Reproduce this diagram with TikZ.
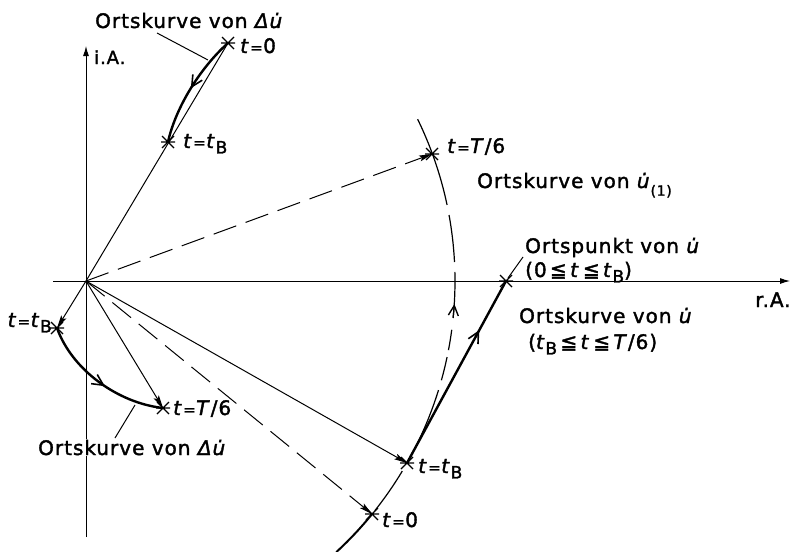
\documentclass[tikz,border=0pt]{standalone}
\usepackage{fontspec}
\setmainfont{DejaVu Sans}
\newfontfamily\lab[LetterSpace=5,FakeBold=1.8]{DejaVu Sans}
\usetikzlibrary{arrows.meta,decorations.markings,calc}
\newcommand\ti{\textit{t}}
\newcommand\ud{\textit{u^^^^0307}}
\newcommand\eq{\kern0.5pt{\fontsize{15}{18}\selectfont=}\kern0.5pt}
\newcommand\sB{\raisebox{-0.5ex}{\fontsize{17}{20}\selectfont B}}
\newcommand\sOne{\raisebox{-0.7ex}{\fontsize{14}{17}\selectfont (1)}}
\begin{document}
\begin{tikzpicture}[x=1pt,y=-1pt,
  thinl/.style={line width=1pt},
  vec/.style={line width=1pt,-{Stealth[length=13pt,width=6pt,inset=2.5pt]}},
  dvec/.style={vec,dash pattern=on 24pt off 10pt},
  thickc/.style={line width=2.4pt},
  lbl/.style={font=\lab\fontsize{20}{24}\selectfont,inner sep=0pt,anchor=base west},
  barb/.style={-{Straight Barb[length=10pt,width=10pt,line width=1.4pt]}},
  midarrow/.style={postaction={decorate},decoration={markings,mark=at position #1 with {\arrow{Straight Barb[length=11pt,width=11pt,line width=1.6pt]}}}},
  xmark/.pic={\draw[line width=1.3pt] (-6,-6)--(6,6) (-6,6)--(6,-6) (-7,0)--(7,0);}
]
\useasboundingbox (0,0) rectangle (791,551);
% points
\coordinate (O) at (86,281);
\coordinate (A0) at (228,43);
\coordinate (AB) at (168,142);
\coordinate (T6) at (432,154);
\coordinate (BB) at (407,463);
\coordinate (B0) at (372,514);
\coordinate (P) at (506,281);
\coordinate (LB) at (57,328);
\coordinate (LT) at (163,408);
\coordinate (ybot) at (86,537);
\coordinate (ytop) at (86,46);
\coordinate (xl) at (53,281);
\coordinate (xr) at (790,281);
% axes
\draw[thinl,-{Latex[length=10pt,width=6pt]}] (ybot) -- (ytop);
\draw[thinl,-{Latex[length=10pt,width=6pt]}] (xl) -- (xr);
% arc (Ortskurve von u(1))
\foreach \a/\b in {26/11.9, 10.3/2.95, 1.4/-5.75, -10.8/-7.6, -15.6/-11.9, -29.6/-17.2, -38.5/-31}
  \draw[line width=1.2pt] plot[domain=\a:\b,samples=16,smooth] ({86+369*cos(\x)},{281-369*sin(\x)});
\coordinate (arA) at (453.1,318);
\coordinate (arB) at (454.4,304);
\draw[line width=1.2pt,barb] (arA) -- (arB);
\draw[line width=2pt] plot[domain=-39.2:-47.3,samples=12,smooth] ({86+369*cos(\x)},{281-369*sin(\x)});
% vectors
\draw[thinl] (O) -- (A0);
\draw[dvec] (O) -- (T6);
\draw[vec] (O) -- (BB);
\draw[dvec] (O) -- (B0);
\draw[vec] (O) -- (LB);
\draw[vec] (O) -- (LT);
% locus curves
\draw[thickc,midarrow=0.5] (A0) .. controls (198,70) and (175,110) .. (AB);
\draw[thickc,midarrow=0.55] (LB) .. controls (72,370) and (118,403) .. (LT);
\draw[thickc,midarrow=0.73] (BB) -- (P);
% marks
\foreach \p in {A0,AB,T6,BB,B0,P,LB,LT} \pic at (\p) {xmark};
% leaders
\coordinate (l1a) at (157,33); \coordinate (l1b) at (208,60);
\coordinate (l2a) at (115,438); \coordinate (l2b) at (135,405);
\coordinate (l3a) at (508,278); \coordinate (l3b) at (523,257);
\draw[thinl] (l1a) -- (l1b);
\draw[thinl] (l2a) -- (l2b);
\draw[thinl] (l3a) -- (l3b);
% labels
\node[lbl] (n1) at (95,28) {Ortskurve von \textit{Δ}\ud};
\node[lbl] (n2) at (240,53) {\ti\eq0};
\node[lbl] (n3) at (183,148) {\ti\eq\ti\sB};
\node[lbl,font=\lab\fontsize{18}{22}\selectfont] (n4) at (94,64) {i.A.};
\node[lbl] (n5) at (447,153) {\ti\eq\textit{T}/6};
\node[lbl] (n6) at (477,188) {Ortskurve von \ud\sOne};
\node[lbl] (n7) at (525,253) {Ortspunkt von \ud};
\node[lbl] (n8) at (525,277) {(0\,≦\,\ti\,≦\,\ti\sB)};
\node[lbl] (n9) at (755,307) {r.A.};
\node[lbl] (n10) at (519,323) {Ortskurve von \ud};
\node[lbl] (n11) at (528,349) {(\ti\sB\,≦\,\ti\,≦\,\textit{T}/6)};
\node[lbl] (n12) at (418,473) {\ti\eq\ti\sB};
\node[lbl] (n13) at (382,527) {\ti\eq0};
\node[lbl,anchor=base east] (n14) at (52,327) {\ti\eq\ti\sB};
\node[lbl] (n15) at (173,415) {\ti\eq\textit{T}/6};
\node[lbl,fill=white,inner sep=1pt] (n16) at (37,455) {Ortskurve von \textit{Δ}\ud};
\end{tikzpicture}
\end{document}
